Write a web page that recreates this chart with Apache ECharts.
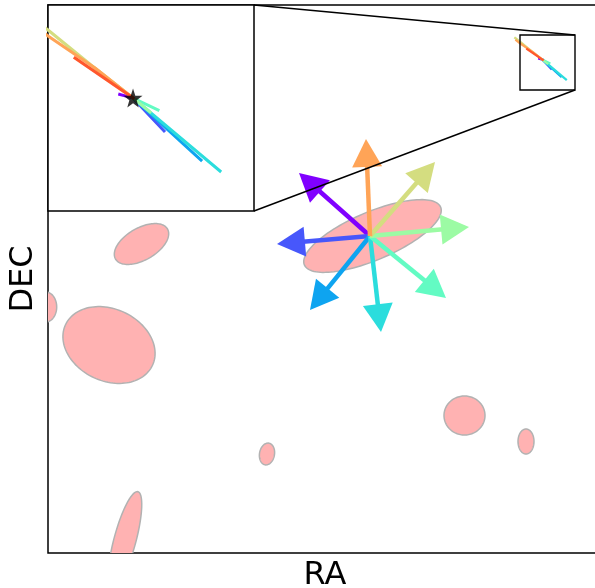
<!DOCTYPE html>
<html>
<head>
<meta charset="utf-8">
<script src="https://cdn.jsdelivr.net/npm/echarts@6/dist/echarts.min.js"></script>
<style>html,body{margin:0;padding:0;background:#fff}#c{width:595px;height:588px}</style>
</head>
<body>
<div id="c"></div>
<script>
// ---- data (sky-plane units, y increases upward) ----
const AXIS_RANGE_X = [0, 548];
const AXIS_RANGE_Y = [0, 548];
const INSET_RANGE_X = [472, 527];
const INSET_RANGE_Y = [463, 518];

// ellipses: centre, semi-major, semi-minor, angle (deg)
const ELL_CX = [324.5, 93.5, -2.3, 61, 416.5, 478, 219, 77];
const ELL_CY = [317, 309, 246, 208, 137.5, 111.5, 99, 13];
const ELL_A = [74, 30, 15, 48, 20.5, 12.5, 11, 50];
const ELL_B = [24, 16, 11, 36, 19.5, 8, 7.5, 11];
const ELL_ANG = [23, 30, 90, -25, 0, 90, 80, 75];

// arrows from a common origin
const ARROW_ORIGIN = [322, 317];
const ARROW_DX = [-71, -93, -60, 11, 76, 99, 65, -4];
const ARROW_DY = [63, -8, -74, -96, -62, 9, 74, 97];

// reference star and tracks
const STAR = [494.7, 493.17];
const TRACK_0 = [[491.15, 494.15], [494.7, 493.17]];
const TRACK_1 = [[494.7, 493.17], [502.97, 484.36]];
const TRACK_2 = [[494.7, 493.17], [512.85, 476.61]];
const TRACK_3 = [[494.7, 493.17], [517.93, 473.67]];
const TRACK_4 = [[494.7, 493.17], [501.37, 489.96]];
const TRACK_5 = [[494.7, 493.17], [499.24, 489.43]];
const TRACK_6 = [[467.19, 515.06], [472.0, 511.32], [483.48, 501.98], [494.7, 493.17]];
const TRACK_7 = [[468.26, 512.66], [472.0, 509.72], [484.55, 501.18], [494.7, 493.17]];
const TRACK_8 = [[479.21, 503.85], [494.7, 493.17]];
const TRACKS = [TRACK_0, TRACK_1, TRACK_2, TRACK_3, TRACK_4, TRACK_5, TRACK_6, TRACK_7, TRACK_8];

// styles
const COLORS = ['#8000ff', '#4757fb', '#0ea4f0', '#2bdddd', '#63fbc3', '#9cfba4', '#d4dd80', '#ffa457', '#ff572c'];
const FONT = 'DejaVu Sans';
const MAIN = {left: 48, top: 5, size: 548};
const INSET = {left: 48, top: 5, size: 206};

const chart = echarts.init(document.getElementById('c'), null, {renderer: 'canvas'});

const hiddenAxis = (gi, r) => ({gridIndex: gi, type: 'value', min: r[0], max: r[1], show: false});

const series = [];

// ellipses
series.push({
  type: 'custom', xAxisIndex: 0, yAxisIndex: 0, clip: true, z: 2,
  data: ELL_CX.map((x, i) => [x, ELL_CY[i]]),
  renderItem: function (params, api) {
    const i = params.dataIndex;
    const th = ELL_ANG[i] * Math.PI / 180;
    const c = Math.cos(th), s = Math.sin(th);
    const pts = [];
    for (let k = 0; k < 120; k++) {
      const t = k / 120 * Math.PI * 2;
      const ex = ELL_A[i] * Math.cos(t), ey = ELL_B[i] * Math.sin(t);
      pts.push(api.coord([ELL_CX[i] + ex * c - ey * s, ELL_CY[i] + ex * s + ey * c]));
    }
    return {type: 'polygon', shape: {points: pts},
      style: {fill: 'rgb(255,178,178)', stroke: 'rgb(178,178,178)', lineWidth: 1.5}};
  }
});

// tracks (main + inset)
TRACKS.forEach((tr, i) => {
  series.push({type: 'line', xAxisIndex: 0, yAxisIndex: 0, data: tr, showSymbol: false, symbol: 'none',
    clip: true, z: 3, silent: true, lineStyle: {color: COLORS[i], width: 2.2, cap: 'square'}});
  series.push({type: 'line', xAxisIndex: 1, yAxisIndex: 1, data: tr, showSymbol: false, symbol: 'none',
    clip: true, z: 3, silent: true, lineStyle: {color: COLORS[i], width: 3, cap: 'square'}});
});

// arrows
series.push({
  type: 'custom', xAxisIndex: 0, yAxisIndex: 0, z: 4,
  data: ARROW_DX.map((d, i) => [ARROW_ORIGIN[0] + d, ARROW_ORIGIN[1] + ARROW_DY[i]]),
  renderItem: function (params, api) {
    const i = params.dataIndex;
    const o = api.coord(ARROW_ORIGIN);
    const e = api.coord([ARROW_ORIGIN[0] + ARROW_DX[i], ARROW_ORIGIN[1] + ARROW_DY[i]]);
    const dx = e[0] - o[0], dy = e[1] - o[1];
    const L = Math.hypot(dx, dy);
    const ux = dx / L, uy = dy / L, px = -uy, py = ux;
    const hl = 28, hw = 15;
    const b = [e[0] - ux * hl, e[1] - uy * hl];
    return {type: 'group', children: [
      {type: 'line', shape: {x1: o[0], y1: o[1], x2: b[0] + ux * 2, y2: b[1] + uy * 2},
        style: {stroke: COLORS[i], lineWidth: 4.5}},
      {type: 'polygon', shape: {points: [e, [b[0] + px * hw, b[1] + py * hw], [b[0] - px * hw, b[1] - py * hw]]},
        style: {fill: COLORS[i]}}
    ]};
  }
});

// zoom rectangle + connector lines
series.push({
  type: 'custom', xAxisIndex: 0, yAxisIndex: 0, z: 6, silent: true,
  data: [[INSET_RANGE_X[0], INSET_RANGE_Y[0]]],
  renderItem: function (params, api) {
    const tl = api.coord([INSET_RANGE_X[0], INSET_RANGE_Y[1]]);
    const br = api.coord([INSET_RANGE_X[1], INSET_RANGE_Y[0]]);
    const tr = [br[0], tl[1]];
    const insR = INSET.left + INSET.size, insT = INSET.top, insB = INSET.top + INSET.size;
    const st = {stroke: '#000', lineWidth: 1.4, fill: null};
    return {type: 'group', children: [
      {type: 'rect', shape: {x: tl[0], y: tl[1], width: br[0] - tl[0], height: br[1] - tl[1]}, style: st},
      {type: 'line', shape: {x1: insR, y1: insT, x2: tr[0], y2: tr[1]}, style: st},
      {type: 'line', shape: {x1: insR, y1: insB, x2: br[0], y2: br[1]}, style: st}
    ]};
  }
});

// star in inset
series.push({
  type: 'scatter', xAxisIndex: 1, yAxisIndex: 1, z: 7, data: [STAR],
  symbol: 'path://M50,0 L61.8,35.1 L98.8,35.1 L68.9,56.9 L79.4,91.9 L50,70.8 L20.6,91.9 L31.1,56.9 L1.2,35.1 L38.2,35.1 Z',
  symbolSize: 19, itemStyle: {color: '#000'}
});

chart.setOption({
  animation: false,
  backgroundColor: '#fff',
  grid: [
    {left: MAIN.left, top: MAIN.top, width: MAIN.size, height: MAIN.size, show: true, borderColor: '#000', borderWidth: 1.5,
      outerBoundsMode: 'none', containLabel: false},
    {left: INSET.left, top: INSET.top, width: INSET.size, height: INSET.size, show: true, borderColor: '#000', borderWidth: 1.5,
      backgroundColor: '#fff', outerBoundsMode: 'none', containLabel: false}
  ],
  xAxis: [
    {gridIndex: 0, type: 'value', min: AXIS_RANGE_X[0], max: AXIS_RANGE_X[1],
      axisLine: {show: false}, axisTick: {show: false}, axisLabel: {show: false}, splitLine: {show: false},
      name: 'RA', nameLocation: 'middle', nameGap: 7,
      nameTextStyle: {fontSize: 32, fontFamily: FONT, color: '#000', padding: [0, 0, 0, 6]}},
    hiddenAxis(1, INSET_RANGE_X)
  ],
  yAxis: [
    {gridIndex: 0, type: 'value', min: AXIS_RANGE_Y[0], max: AXIS_RANGE_Y[1],
      axisLine: {show: false}, axisTick: {show: false}, axisLabel: {show: false}, splitLine: {show: false},
      name: 'DEC', nameLocation: 'middle', nameGap: 8,
      nameTextStyle: {fontSize: 32, fontFamily: FONT, color: '#000'}},
    hiddenAxis(1, INSET_RANGE_Y)
  ],
  series: series
});
</script>
</body>
</html>
